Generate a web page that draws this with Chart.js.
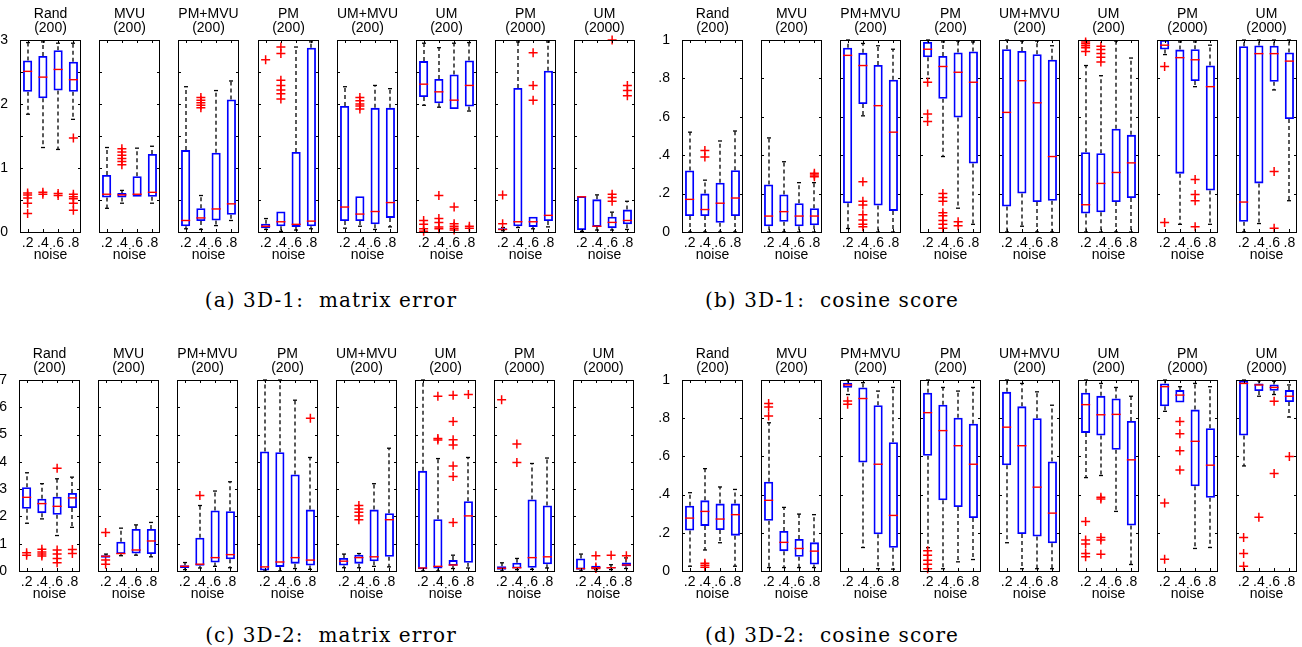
<!DOCTYPE html>
<html>
<head>
<meta charset="utf-8">
<script src="https://cdn.jsdelivr.net/npm/chart.js@4.4.1/dist/chart.umd.min.js"></script>
<style>
body { margin: 0; background: #fff; width: 1302px; height: 647px; position: relative; overflow: hidden; }
canvas { position: absolute; }
.cap { position: absolute; font-family: 'DejaVu Serif'; font-size: 20px; line-height: 23px; letter-spacing: 1.1px; white-space: pre; transform: translateX(-50%); color: #000; }
</style>
</head>
<body>
<div class="cap" style="left:331px;top:289px">(a) 3D-1:  matrix error</div>
<div class="cap" style="left:832px;top:289px">(b) 3D-1:  cosine score</div>
<div class="cap" style="left:331px;top:624px">(c) 3D-2:  matrix error</div>
<div class="cap" style="left:832px;top:624px">(d) 3D-2:  cosine score</div>
<script>
// subplot titles and x ticks
const methods = ["Rand", "MVU", "PM+MVU", "PM", "UM+MVU", "UM", "PM", "UM"];
const sampleSizes = ["200", "200", "200", "200", "200", "200", "2000", "2000"];
const noiseLevels = [".2", ".4", ".6", ".8"];

// box stats per noise level: [low whisker, q1, median, q3, high whisker]
const matErr1Stats = [
  [[1.84,2.19,2.51,2.68,2.96],[1.32,2.09,2.42,2.75,2.97],[1.29,2.21,2.54,2.84,2.95],[1.76,2.19,2.38,2.66,2.95]],
  [[0.37,0.54,0.59,0.89,1.32],[0.45,0.54,0.58,0.61,0.65],[0.55,0.55,0.59,0.87,1.31],[0.45,0.55,0.62,1.22,1.34]],
  [[0.05,0.09,0.18,1.28,2.27],[0.04,0.17,0.22,0.37,0.57],[0.10,0.18,0.36,1.24,2.21],[0.18,0.27,0.44,2.07,2.36]],
  [[0.04,0.06,0.09,0.13,0.21],[0.01,0.09,0.16,0.32,0.32],[0.03,0.08,0.12,1.25,2.89],[0.05,0.09,0.17,2.88,2.97]],
  [[0.06,0.17,0.39,1.97,2.27],[0.09,0.17,0.28,0.56,0.56],[0.04,0.12,0.32,1.94,2.29],[0.08,0.22,0.46,1.94,2.24]],
  [[1.98,2.11,2.31,2.67,2.95],[1.95,2.01,2.19,2.39,2.88],[1.92,1.92,2.06,2.46,2.95],[1.89,1.96,2.29,2.68,2.96]],
  [[0.02,0.03,0.04,0.06,0.07],[0.07,0.09,0.16,2.25,2.97],[0.05,0.08,0.16,0.24,0.24],[0.08,0.17,0.26,2.52,2.97]],
  [[0.01,0.03,0.55,0.56,0.56],[0.03,0.08,0.09,0.51,0.58],[0.03,0.06,0.15,0.24,0.31],[0.04,0.12,0.18,0.35,0.48]]
];
const matErr1Out = [
  [[0.61,0.58,0.53,0.45,0.29],[0.62,0.59],[0.60,0.57],[1.47,0.59,0.55,0.52,0.45,0.34]],
  [[],[1.30,1.25,1.20,1.15,1.10,1.05],[],[]],
  [[],[2.10,2.06,2.02,1.98,1.94],[],[]],
  [[2.69],[2.89,2.79,2.37,2.29,2.22,2.16,2.08],[],[]],
  [[],[2.10,2.05,2.00,1.97,1.92],[],[]],
  [[0.18,0.12,0.05,0.01],[0.57,0.21,0.15,0.08,0.05],[0.39,0.13,0.09,0.06,0.03],[0.09,0.06]],
  [[0.58,0.13],[],[2.80,2.29,2.06],[]],
  [[],[],[3.00,0.59,0.54,0.48],[2.29,2.21,2.13]]
];

const cos1Stats = [
  [[0,0.083,0.17,0.32,0.52],[0,0.083,0.117,0.2,0.27],[0,0.048,0.15,0.257,0.474],[0,0.083,0.177,0.322,0.526]],
  [[0,0.03,0.083,0.248,0.49],[0,0.053,0.106,0.195,0.366],[0,0.03,0.083,0.15,0.257],[0,0.035,0.083,0.124,0.257]],
  [[0.018,0.15,0.92,0.96,1.0],[0.605,0.667,0.867,0.933,0.982],[0,0.138,0.658,0.87,0.97],[0,0.11,0.52,0.793,0.952]],
  [[0.8,0.91,0.952,0.99,1.0],[0.393,0.694,0.862,0.917,0.99],[0.124,0.596,0.832,0.935,0.995],[0.04,0.357,0.78,0.94,0.99]],
  [[0,0.133,0.623,0.952,1.0],[0.03,0.2,0.788,0.943,0.995],[0,0.156,0.673,0.926,0.995],[0,0.163,0.393,0.897,0.97]],
  [[0,0.096,0.142,0.416,0.867],[0,0.103,0.253,0.41,0.814],[0,0.156,0.31,0.538,0.995],[0,0.177,0.36,0.506,0.906]],
  [[0.924,0.95,0.973,1.0,1.0],[0.04,0.304,0.908,0.95,0.99],[0.757,0.786,0.897,0.952,0.99],[0.04,0.216,0.757,0.867,0.973]],
  [[0,0.053,0.156,0.968,1.0],[0.044,0.253,0.929,0.972,1.0],[0.74,0.782,0.929,0.97,1.0],[0.163,0.588,0.89,0.935,1.0]]
];
const cos1Out = [
  [[],[0.425,0.39],[],[]],
  [[],[],[],[0.306,0.297,0.288]],
  [[],[0.262,0.16,0.14,0.09,0.062,0.04,0.027],[],[]],
  [[0.78,0.614,0.575],[0.2,0.18,0.16,0.1,0.085,0.06,0.04,0.02],[0.053,0.032],[]],
  [[],[],[],[]],
  [[0.99,0.98,0.97,0.96,0.94],[0.968,0.95,0.93,0.91,0.885],[],[]],
  [[0.862,0.05],[],[0.274,0.195,0.163,0.027],[]],
  [[],[],[0.315,0.02],[]]
];

const matErr2Stats = [
  [[1.75,2.28,2.7,3.07,3.6],[1.91,2.12,2.47,2.65,3.2],[1.3,2.06,2.37,2.72,3.38],[1.6,2.31,2.68,2.86,3.44]],
  [[0.49,0.49,0.54,0.58,0.62],[0.56,0.62,0.64,1.07,1.57],[0.58,0.64,0.77,1.54,1.69],[0.52,0.62,1.1,1.54,1.78]],
  [[0.05,0.11,0.17,0.21,0.31],[0.11,0.19,0.25,1.22,2.4],[0.17,0.31,0.49,2.22,2.93],[0.12,0.43,0.6,2.19,3.27]],
  [[0,0.02,0.15,4.38,7.0],[0,0.15,0.33,4.35,7.0],[0.09,0.27,0.49,3.54,6.26],[0.06,0.2,0.4,2.25,4.16]],
  [[0.12,0.2,0.36,0.48,0.62],[0.12,0.27,0.49,0.6,0.64],[0.17,0.36,0.52,2.25,3.2],[0.15,0.52,1.88,2.12,4.5]],
  [[0,0.06,0.11,3.67,7.0],[0,0.09,0.17,1.9,4.12],[0.09,0.19,0.22,0.4,0.58],[0.11,0.3,2.02,2.56,4.16]],
  [[0,0.05,0.1,0.17,0.3],[0.05,0.09,0.12,0.3,0.46],[0.06,0.12,0.49,2.62,3.94],[0.11,0.25,0.52,2.4,4.14]],
  [[0,0.05,0.09,0.46,0.62],[0.05,0.09,0.12,0.19,0.19],[0.05,0.09,0.12,0.15,0.23],[0.09,0.17,0.22,0.31,0.48]]
];
const matErr2Out = [
  [[0.67,0.58],[0.8,0.7,0.62,0.55],[3.77,0.77,0.62,0.46,0.3],[0.79,0.64]],
  [[1.41,0.4,0.25],[],[],[]],
  [[],[2.77],[],[]],
  [[],[],[],[5.6]],
  [[],[2.4,2.27,2.15,2.02,1.88],[],[]],
  [[],[6.4,4.86,4.8],[6.44,5.48,4.81,4.62,3.85,3.46,1.78],[6.47]],
  [[6.28],[4.65,3.98],[],[]],
  [[],[0.56,0.15,0.09],[0.58],[0.56]]
];

const cos2Stats = [
  [[0.025,0.212,0.277,0.342,0.41],[0.11,0.236,0.312,0.37,0.536],[0.148,0.215,0.272,0.353,0.44],[0.025,0.185,0.295,0.353,0.427]],
  [[0.018,0.263,0.37,0.467,0.776],[0.018,0.104,0.15,0.21,0.333],[0.018,0.074,0.118,0.168,0.298],[0.018,0.034,0.104,0.15,0.295]],
  [[0.924,0.959,0.974,0.986,1.0],[0.123,0.568,0.903,0.961,0.986],[0.012,0.192,0.559,0.868,0.942],[0.01,0.122,0.291,0.674,0.961]],
  [[0.122,0.603,0.829,0.933,1.0],[0.012,0.37,0.735,0.871,0.961],[0.048,0.335,0.656,0.802,0.942],[0.06,0.277,0.559,0.771,0.961]],
  [[0.148,0.554,0.753,0.938,1.0],[0.012,0.194,0.656,0.862,0.982],[0.012,0.18,0.439,0.8,0.938],[0.012,0.145,0.303,0.573,0.868]],
  [[0.489,0.723,0.871,0.933,1.0],[0.5,0.709,0.818,0.917,0.982],[0.312,0.635,0.82,0.903,0.961],[0.034,0.238,0.582,0.785,0.915]],
  [[0.836,0.862,0.965,0.982,1.0],[0.882,0.882,0.921,0.947,0.965],[0.118,0.444,0.679,0.845,0.982],[0.123,0.383,0.554,0.748,0.965]],
  [[0.55,0.709,0.982,0.996,1.0],[0.915,0.942,0.974,0.982,0.996],[0.924,0.944,0.961,0.977,0.994],[0.806,0.885,0.915,0.947,0.974]]
];
const cos2Out = [
  [[],[0.04,0.03,0.02],[],[]],
  [[0.877,0.859,0.811],[],[],[]],
  [[0.89,0.873],[],[],[]],
  [[0.106,0.083,0.056,0.035,0.012],[],[],[]],
  [[],[],[],[]],
  [[0.259,0.162,0.141,0.092,0.074],[0.386,0.377,0.175,0.162,0.088],[],[]],
  [[0.356,0.062],[0.783,0.718,0.63,0.529],[],[]],
  [[0.176,0.092,0.025],[0.282],[0.889,0.511],[0.6]]
];

const FONT = "'Liberation Sans', Arial, sans-serif";

function fracLabel(v) {
  if (v === 0) return "0";
  if (v === 1) return "1";
  return v.toFixed(1).replace(/^0/, "");
}

const panels = [
  { stats: matErr1Stats, out: matErr1Out, x0: 20, top: 40, h: 190, max: 3, step: 0.5,
    label: v => (Math.abs(v - Math.round(v)) < 1e-6 ? String(Math.round(v)) : "") },
  { stats: cos1Stats, out: cos1Out, x0: 682, top: 40, h: 190, max: 1, step: 0.2, label: fracLabel },
  { stats: matErr2Stats, out: matErr2Out, x0: 19, top: 380, h: 189, max: 7, step: 1, label: v => String(v) },
  { stats: cos2Stats, out: cos2Out, x0: 682, top: 380, h: 189, max: 1, step: 0.2, label: fracLabel }
];

// whiskers, medians, frame and inner tick marks
const boxParts = {
  id: "boxParts",
  beforeDatasetsDraw(chart) {
    const st = chart.options.plugins.boxParts.stats;
    const xs = chart.scales.x, ys = chart.scales.y;
    const ctx = chart.ctx;
    ctx.save();
    ctx.strokeStyle = "#000";
    ctx.lineWidth = 1.3;
    st.forEach((s, i) => {
      const x = Math.round(xs.getPixelForValue(i));
      const segs = [[s[3], s[4]], [s[1], s[0]]];
      segs.forEach(([from, to]) => {
        if (Math.abs(to - from) < 1e-9) return;
        const y1 = ys.getPixelForValue(from), y2 = ys.getPixelForValue(to);
        ctx.setLineDash([4, 3]);
        ctx.beginPath();
        ctx.moveTo(x, y1);
        ctx.lineTo(x, y2);
        ctx.stroke();
        ctx.setLineDash([]);
        ctx.beginPath();
        ctx.moveTo(x - 2, y2);
        ctx.lineTo(x + 2, y2);
        ctx.stroke();
      });
    });
    ctx.restore();
  },
  afterDatasetsDraw(chart) {
    const st = chart.options.plugins.boxParts.stats;
    const xs = chart.scales.x, ys = chart.scales.y;
    const ctx = chart.ctx;
    const meta = chart.getDatasetMeta(0);
    const a = chart.chartArea;
    ctx.save();
    ctx.strokeStyle = "#ff0000";
    ctx.lineWidth = 1.4;
    st.forEach((s, i) => {
      const bar = meta.data[i];
      const y = ys.getPixelForValue(s[2]);
      ctx.beginPath();
      ctx.moveTo(bar.x - bar.width / 2, y);
      ctx.lineTo(bar.x + bar.width / 2, y);
      ctx.stroke();
    });
    ctx.strokeStyle = "#000";
    ctx.lineWidth = 1;
    ctx.strokeRect(Math.round(a.left) + 0.5, Math.round(a.top) + 0.5,
      Math.round(a.right - a.left) - 1, Math.round(a.bottom - a.top));
    ctx.beginPath();
    ys.ticks.forEach(t => {
      const y = Math.round(ys.getPixelForValue(t.value)) + 0.5;
      ctx.moveTo(a.left, y); ctx.lineTo(a.left + 3, y);
      ctx.moveTo(a.right - 3, y); ctx.lineTo(a.right, y);
    });
    noiseLevels.forEach((n, i) => {
      const x = Math.round(xs.getPixelForValue(i)) + 0.5;
      ctx.moveTo(x, a.top); ctx.lineTo(x, a.top + 3);
      ctx.moveTo(x, a.bottom); ctx.lineTo(x, a.bottom - 3);
    });
    ctx.stroke();
    ctx.restore();
  }
};

panels.forEach(p => {
  for (let i = 0; i < 8; i++) {
    const m = i === 0 ? 26 : 9;
    const fl = Math.round(p.x0 + i * 79.2);
    const cv = document.createElement("canvas");
    const w = 61 + 2 * m, hgt = 40 + p.h + 34;
    cv.width = w; cv.height = hgt;
    cv.style.left = (fl - m) + "px";
    cv.style.top = (p.top - 40) + "px";
    cv.style.width = w + "px";
    cv.style.height = hgt + "px";
    document.body.appendChild(cv);

    const stats = p.stats[i];
    const outPts = [];
    p.out[i].forEach((vals, k) => vals.forEach(v => outPts.push({ x: noiseLevels[k], y: v })));

    new Chart(cv, {
      type: "bar",
      data: {
        labels: noiseLevels,
        datasets: [
          {
            data: stats.map(s => [s[1], s[3]]),
            backgroundColor: "rgba(0,0,0,0)",
            borderColor: "#0000ff",
            borderWidth: 1.8,
            borderSkipped: false,
            barPercentage: 0.6,
            categoryPercentage: 1
          },
          {
            type: "line",
            data: outPts,
            showLine: false,
            pointStyle: "cross",
            pointRadius: 4.5,
            borderColor: "#ff0000",
            backgroundColor: "#ff0000",
            pointBorderWidth: 1.5,
            clip: false
          }
        ]
      },
      options: {
        responsive: false,
        animation: false,
        devicePixelRatio: 1,
        layout: { padding: { left: 0, right: m, top: 0, bottom: 0 } },
        plugins: {
          legend: { display: false },
          tooltip: { enabled: false },
          title: {
            display: true,
            fullSize: false,
            text: [methods[i], "(" + sampleSizes[i] + ")"],
            color: "#000",
            font: { family: FONT, size: 14, weight: "normal", lineHeight: 1 },
            padding: { top: 7, bottom: 5 }
          },
          boxParts: { stats: stats }
        },
        scales: {
          x: {
            type: "category",
            offset: true,
            grid: { display: false },
            border: { display: false },
            ticks: { color: "#000", font: { family: FONT, size: 14 }, padding: -5, maxRotation: 0, autoSkip: false },
            title: { display: true, text: "noise", color: "#000", font: { family: FONT, size: 14 }, padding: { top: 0, bottom: 0 } },
            afterFit(scale) { scale.height = 32; }
          },
          y: {
            min: 0,
            max: p.max,
            grid: { display: false },
            border: { display: false },
            ticks: {
              display: i === 0,
              stepSize: p.step,
              color: "#000",
              padding: 4,
              font: { family: FONT, size: 14 },
              callback: v => p.label(v)
            },
            afterFit(scale) { scale.width = m; }
          }
        }
      },
      plugins: [boxParts]
    });
  }
});
</script>
</body>
</html>
